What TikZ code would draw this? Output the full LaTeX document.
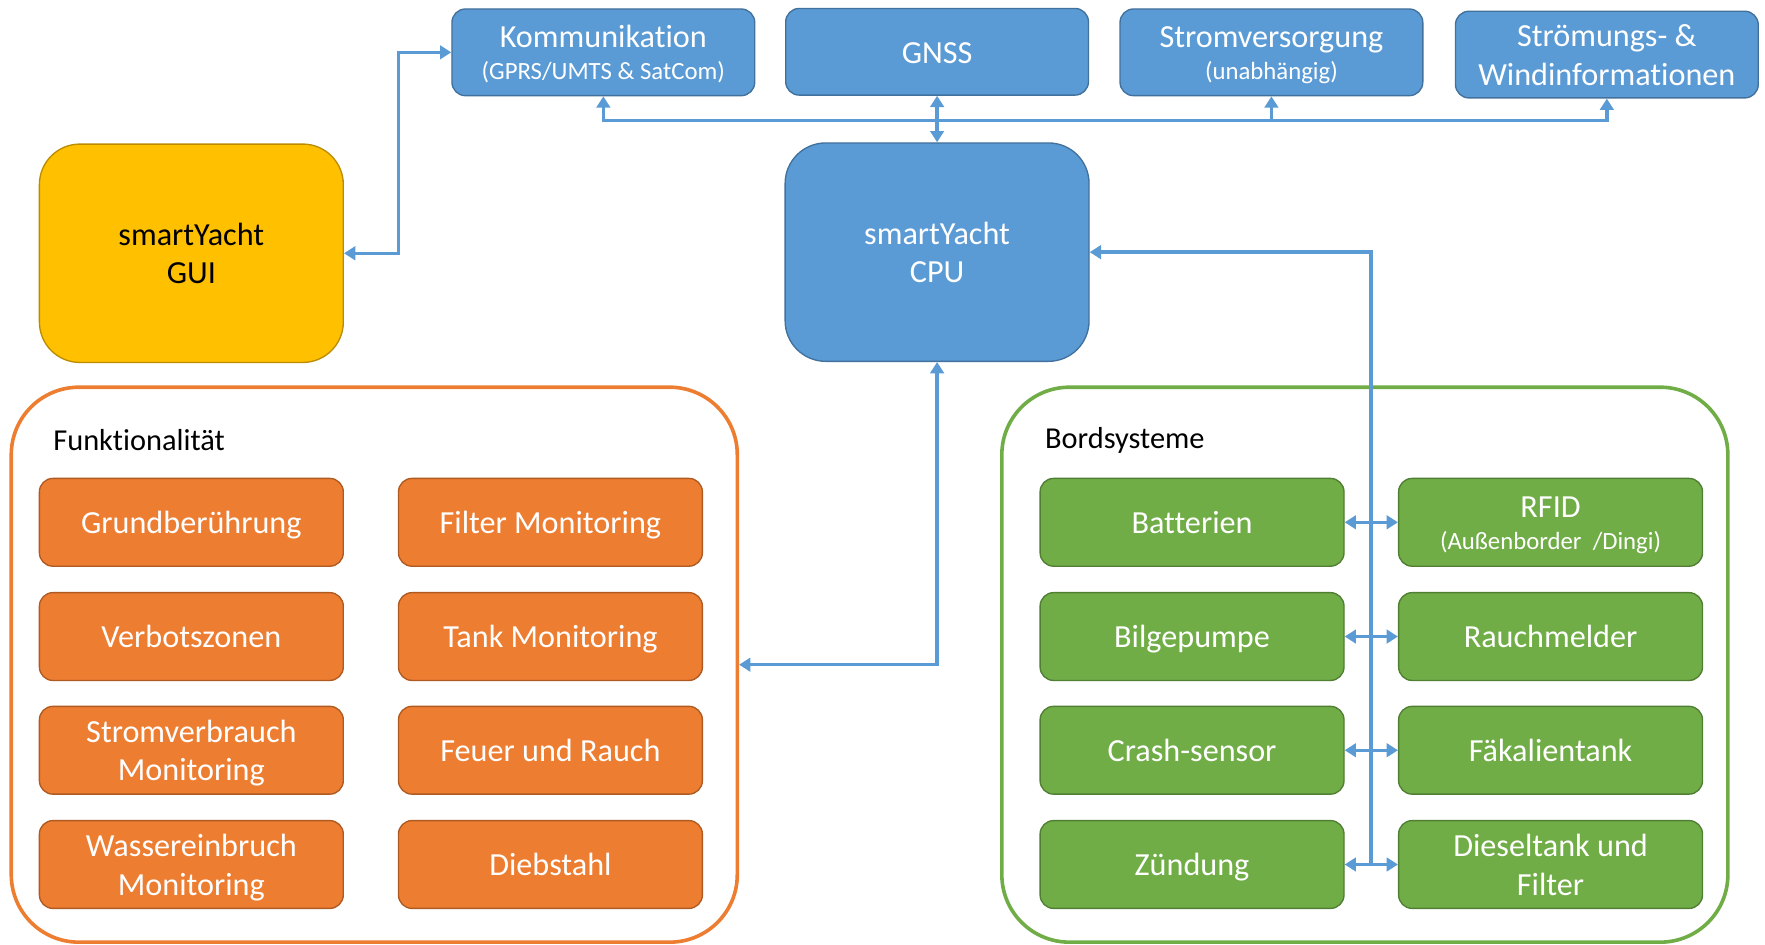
\documentclass[tikz,border=0pt]{standalone}
\usepackage{fontspec}
\setmainfont{Carlito}[Ligatures={NoCommon,NoRequired,NoContextual}]
\usetikzlibrary{arrows.meta}
\definecolor{bfill}{HTML}{5B9BD5}
\definecolor{bline}{HTML}{41719C}
\definecolor{ofill}{HTML}{ED7D31}
\definecolor{oline}{HTML}{AE5A21}
\definecolor{gfill}{HTML}{70AD47}
\definecolor{gline}{HTML}{507E32}
\definecolor{yfill}{HTML}{FFC000}
\definecolor{yline}{HTML}{BC8C00}
\newcommand{\topstrut}{\rule{0pt}{13.6pt}}
\newcommand{\botstrut}{\rule[-3.6pt]{0pt}{3.6pt}}
\newcommand{\subtxt}[1]{{\fontsize{11}{13}\selectfont #1}}
\newcommand{\twol}[2]{\topstrut #1\\#2\botstrut}
\newcommand{\subl}[2]{\topstrut #1\\[-3pt]\subtxt{#2}\botstrut}
\tikzset{
  x=0.5pt, y=-0.5pt,
  box/.style={rectangle, rounded corners=6pt, line width=0.6pt, text=white,
    align=center, inner sep=2pt, font=\fontsize{14.3}{17.2}\selectfont,
    execute at begin node={\topstrut}, execute at end node={\botstrut}},
  topbox/.style={box, fill=bfill, draw=bline, minimum width=134.5pt, minimum height=38.5pt},
  obox/.style={box, fill=ofill, draw=oline, minimum width=135pt, minimum height=39pt},
  gbox/.style={box, fill=gfill, draw=gline, minimum width=135pt, minimum height=39pt},
  bigbox/.style={box, rounded corners=18pt, minimum width=135pt, minimum height=97pt},
  container/.style={rectangle, rounded corners=30pt, line width=1.6pt, minimum width=322.5pt, minimum height=246.5pt},
  clabel/.style={anchor=west, inner sep=0pt, font=\fontsize{13.5}{15}\selectfont},
  conn/.style={draw=bfill, line width=1.5pt, {Triangle[width=6pt,length=5pt]}-{Triangle[width=6pt,length=5pt]}},
  connR/.style={draw=bfill, line width=1.5pt, -{Triangle[width=6pt,length=5pt]}},
}
\begin{document}
\begin{tikzpicture}
\useasboundingbox (0,0) rectangle (1568,839);
% top row
\node[topbox] (kom) at (536,46.5) {\subl{Kommunikation}{(GPRS/UMTS \& SatCom)}};
\node[topbox] (gnss) at (832.5,46) {GNSS};
\node[topbox] (strom) at (1129.5,46.5) {\subl{Stromversorgung}{(unabhängig)}};
\node[topbox] (wind) at (1427.5,48.5) {\twol{Strömungs- \&}{Windinformationen}};
% GUI and CPU
\node[bigbox, fill=yfill, draw=yline, text=black] (gui) at (170,225) {\twol{smartYacht}{GUI}};
\node[bigbox, fill=bfill, draw=bline] (cpu) at (832.5,224) {\twol{smartYacht}{CPU}};
% containers
\node[container, draw=ofill] (funk) at (332.5,590.5) {};
\node[container, draw=gfill] (bord) at (1212.5,590.5) {};
\node[clabel] (funkl) at (47,391) {Funktionalität};
\node[clabel] (bordl) at (928,391) {Bordsysteme};
% orange boxes
\node[obox] (o1) at (170,464) {Grundberührung};
\node[obox] (o2) at (170,565.5) {Verbotszonen};
\node[obox] (o3) at (170,666.5) {\twol{Stromverbrauch}{Monitoring}};
\node[obox] (o4) at (170,768) {\twol{Wassereinbruch}{Monitoring}};
\node[obox] (p1) at (489,464) {Filter Monitoring};
\node[obox] (p2) at (489,565.5) {Tank Monitoring};
\node[obox] (p3) at (489,666.5) {Feuer und Rauch};
\node[obox] (p4) at (489,768) {Diebstahl};
% green boxes
\node[gbox] (g1) at (1059,464) {Batterien};
\node[gbox] (g2) at (1059,565.5) {Bilgepumpe};
\node[gbox] (g3) at (1059,666.5) {Crash-sensor};
\node[gbox] (g4) at (1059,768) {Zündung};
\node[gbox] (h1) at (1377.5,464) {\subl{RFID}{(Außenborder~ /Dingi)}};
\node[gbox] (h2) at (1377.5,565.5) {Rauchmelder};
\node[gbox] (h3) at (1377.5,666.5) {Fäkalientank};
\node[gbox] (h4) at (1377.5,768) {\twol{Dieseltank und}{Filter}};
% connectors
\coordinate (bus) at (0,107);
\coordinate (guix) at (354,0);
\coordinate (busr) at (1218,0);
\draw[conn] (kom.south) |- (wind.south |- bus) -- (wind.south);
\draw[connR] (strom.south |- bus) -- (strom.south);
\draw[conn] (gnss.south) -- (cpu.north);
\draw[conn] (gui.east) -- (gui.east -| guix) |- (kom.west);
\draw[conn] (cpu.south) |- (funk.east);
\draw[connR] (busr |- g4.east) |- (cpu.east);
\draw[conn] (g1.east) -- (h1.west);
\draw[conn] (g2.east) -- (h2.west);
\draw[conn] (g3.east) -- (h3.west);
\draw[conn] (g4.east) -- (h4.west);
\end{tikzpicture}
\end{document}
